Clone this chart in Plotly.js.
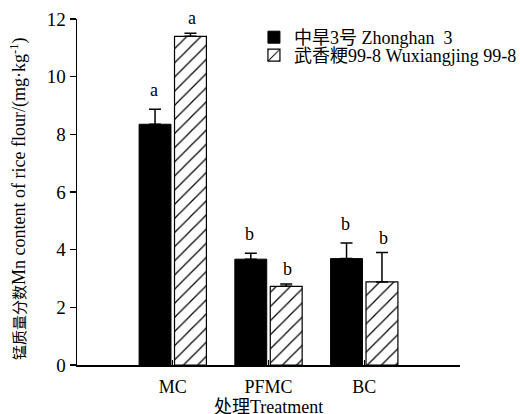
<!DOCTYPE html>
<html>
<head>
<meta charset="utf-8">
<script src="https://cdn.plot.ly/plotly-3.0.1.min.js"></script>
<style>html,body{margin:0;padding:0;background:#fff;}#chart{width:520px;height:414px;}</style>
</head>
<body>
<div id="chart"></div>
<script>
var categories = ['MC', 'PFMC', 'BC'];
var seriesNames = ['中旱3号 Zhonghan  3', '武香粳99-8 Wuxiangjing 99-8'];
var zhonghanValues = [8.35, 3.67, 3.69];
var zhonghanErrors = [0.52, 0.21, 0.54];
var wuxiangValues = [11.40, 2.73, 2.88];
var wuxiangErrors = [0.11, 0.08, 1.02];
var zhonghanLetters = ['a', 'b', 'b'];
var wuxiangLetters = ['a', 'b', 'b'];
var yTicks = [0, 2, 4, 6, 8, 10, 12];
var xTitle = '处理Treatment';

var FONT = "'Liberation Serif', 'Times New Roman', 'Noto Sans CJK SC', serif";

var traceA = {
  type: 'bar', name: seriesNames[0], x: categories, y: zhonghanValues, legend: 'legend',
  marker: {color: '#000', line: {color: '#000', width: 1}},
  error_y: {type: 'data', symmetric: false, array: zhonghanErrors, arrayminus: [0,0,0], color: '#000', thickness: 1.5, width: 6}
};
var traceB = {
  type: 'bar', name: seriesNames[1], x: categories, y: wuxiangValues, legend: 'legend2',
  marker: {color: '#fff', line: {color: '#000', width: 1.2},
    pattern: {shape: '/', fgcolor: '#000', bgcolor: '#fff', size: 10, solidity: 0.12}},
  error_y: {type: 'data', symmetric: false, array: wuxiangErrors, arrayminus: [0,0,0], color: '#000', thickness: 1.5, width: 6}
};

var annotations = [];
categories.forEach(function(c, i) {
  annotations.push({x: c, y: zhonghanValues[i] + zhonghanErrors[i], text: zhonghanLetters[i], showarrow: false,
    xref: 'x', yref: 'y', xshift: -19, yanchor: 'bottom', yshift: 7, font: {family: FONT, size: 18, color: '#000'}});
  annotations.push({x: c, y: wuxiangValues[i] + wuxiangErrors[i], text: wuxiangLetters[i], showarrow: false,
    xref: 'x', yref: 'y', xshift: 19, yanchor: 'bottom', yshift: 3, font: {family: FONT, size: 18, color: '#000'}});
});
annotations.push({x: 0.5, y: 0, xref: 'paper', yref: 'paper', text: xTitle, showarrow: false,
  xanchor: 'center', yanchor: 'middle', yshift: -42, font: {family: FONT, size: 18, color: '#000'}});

var legendBase = {x: 0.462, xanchor: 'left', yanchor: 'top', bgcolor: 'rgba(0,0,0,0)',
  font: {family: FONT, size: 18, color: '#000'}};
var legend1 = Object.assign({}, legendBase, {y: 1.0});
var legend2 = Object.assign({}, legendBase, {y: 0.948});

var layout = {
  width: 520, height: 414,
  margin: {l: 77, r: 60, t: 19, b: 49, autoexpand: false},
  paper_bgcolor: '#fff', plot_bgcolor: '#fff',
  font: {family: FONT, size: 18, color: '#000'},
  barmode: 'group', bargap: 0.26, bargroupgap: 0.1,
  showlegend: true,
  legend: legend1,
  legend2: legend2,
  xaxis: {
    range: [-1, 3], showgrid: false, zeroline: false, showline: true, linecolor: '#000', linewidth: 1.5,
    ticks: 'inside', ticklen: 5, tickcolor: '#000', tickwidth: 1,
    tickfont: {family: FONT, size: 18}, ticklabelstandoff: 5, fixedrange: true
  },
  yaxis: {
    range: [0, 12], tickvals: yTicks, showgrid: false, zeroline: false, showline: true, linecolor: '#000', linewidth: 1.5,
    ticks: 'outside', ticklen: 6, tickcolor: '#000', tickwidth: 1.2,
    tickfont: {family: FONT, size: 19},
    title: {text: '<span style="font-size:15px">锰质量分数</span>Mn content of rice flour/(mg·kg<sup>-1</sup>)&nbsp;&nbsp;&nbsp;', font: {family: FONT, size: 18}, standoff: 16}
  },
  annotations: annotations
};

Plotly.newPlot('chart', [traceA, traceB], layout, {staticPlot: true, displayModeBar: false});
</script>
</body>
</html>
